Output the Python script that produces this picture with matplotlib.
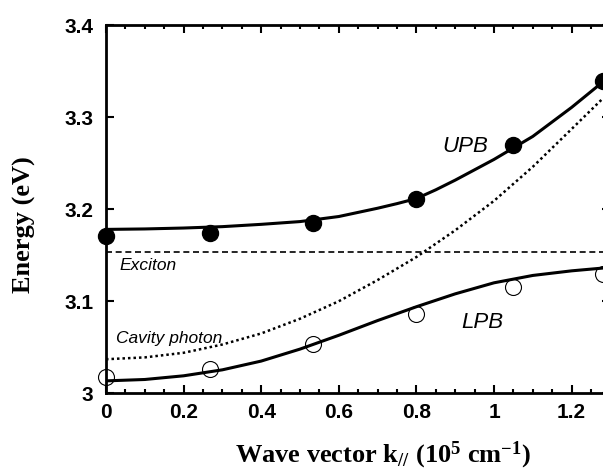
import matplotlib
matplotlib.use("Agg")
import matplotlib.pyplot as plt
from matplotlib.ticker import MultipleLocator, FormatStrFormatter

# measured points (filled = upper polariton, open = lower polariton)
k_data = [0.0, 0.267, 0.533, 0.80, 1.05, 1.28]
upb_data = [3.171, 3.1745, 3.185, 3.211, 3.270, 3.3396]
lpb_data = [3.018, 3.0265, 3.054, 3.086, 3.115, 3.1296]

# fitted curves
k_upb = [0.0, 0.1, 0.2, 0.3, 0.4, 0.5, 0.6, 0.7, 0.75, 0.8, 0.85, 0.9,
         1.0, 1.1, 1.2, 1.28]
upb_fit = [3.178, 3.1785, 3.1795, 3.181, 3.1835, 3.1865, 3.192, 3.201, 3.206,
           3.2115, 3.221, 3.2315, 3.254, 3.279, 3.3105, 3.338]
k_fit = [0.0, 0.1, 0.2, 0.3, 0.4, 0.5, 0.6, 0.7, 0.8, 0.9, 1.0, 1.1, 1.2, 1.28]
lpb_fit = [3.0135, 3.015, 3.019, 3.0255, 3.035, 3.048, 3.063, 3.079, 3.094,
           3.108, 3.120, 3.128, 3.133, 3.136]
cavity = [3.037, 3.039, 3.044, 3.053, 3.065, 3.081, 3.100, 3.123, 3.148,
          3.177, 3.209, 3.246, 3.287, 3.320]
exciton = 3.154

plt.rcParams["mathtext.fontset"] = "custom"
plt.rcParams["mathtext.rm"] = "Liberation Serif:bold"
plt.rcParams["mathtext.it"] = "Liberation Serif:bold"
plt.rcParams["mathtext.bf"] = "Liberation Serif:bold"

fig = plt.figure(figsize=(6.03, 4.70), dpi=100)
ax = fig.add_axes([106 / 603, (470 - 393.3) / 470, 504.4 / 603, 368.3 / 470])

ax.plot(k_upb, upb_fit, color="black", lw=2.2)
ax.plot(k_fit, lpb_fit, color="black", lw=2.2)
ax.plot(k_fit, cavity, color="black", lw=1.8, linestyle=(0, (1, 1.2)))
ax.axhline(exciton, color="black", lw=1.2, linestyle=(0, (3.6, 2.2)))

ax.plot(k_data, upb_data, "o", color="black", ms=11.5, clip_on=False, zorder=5)
ax.plot(k_data, lpb_data, "o", mfc="none", mec="black", mew=0.8, ms=11.5,
        clip_on=False, zorder=5)

ax.set_xlim(0, 1.30)
ax.set_ylim(3.0, 3.4)
ax.xaxis.set_major_locator(MultipleLocator(0.2))
ax.xaxis.set_minor_locator(MultipleLocator(0.05))
ax.yaxis.set_major_locator(MultipleLocator(0.1))
ax.xaxis.set_major_formatter(FormatStrFormatter("%g"))
ax.yaxis.set_major_formatter(FormatStrFormatter("%g"))

ax.tick_params(which="both", direction="in", top=True, right=True, width=1.5)
ax.tick_params(which="major", length=6)
ax.tick_params(which="minor", length=3)
ax.tick_params(axis="x", pad=7)
ax.tick_params(axis="y", pad=9)
for lab in ax.get_xticklabels() + ax.get_yticklabels():
    lab.set_fontfamily("Liberation Sans")
    lab.set_fontweight("bold")
    lab.set_fontsize(15)
for sp in ax.spines.values():
    sp.set_linewidth(2)

ax.set_xlabel(r"Wave vector k$_{//}$ (10$^{5}$ cm$^{-1}$)", family="Liberation Serif",
              fontweight="bold", fontsize=19, va="center")
ax.xaxis.set_label_coords(0.549, -0.1675)
ax.set_ylabel("Energy (eV)", family="Liberation Serif", fontweight="bold",
              fontsize=19, va="center")
ax.yaxis.set_label_coords(-0.1626, 0.457)

txt = dict(family="Liberation Sans", style="italic", va="baseline")
ax.text(0.866, 3.2624, "UPB", fontsize=16, **txt)
ax.text(0.917, 3.0707, "LPB", fontsize=16, **txt)
ax.text(0.036, 3.134, "Exciton", fontsize=12.5, **txt)
ax.text(0.026, 3.0549, "Cavity photon", fontsize=12.5, **txt)

fig.savefig("out.png", dpi=100)
